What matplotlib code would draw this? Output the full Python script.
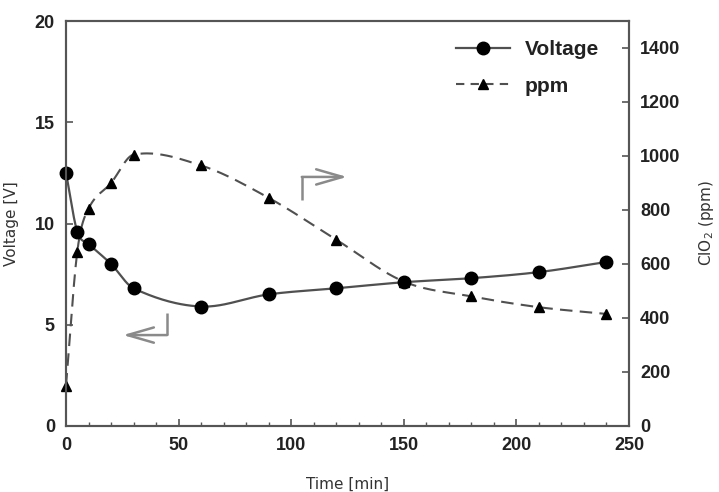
import numpy as np
import matplotlib
matplotlib.use("Agg")
import matplotlib.pyplot as plt
from matplotlib.lines import Line2D

time_min = [0, 5, 10, 20, 30, 60, 90, 120, 150, 180, 210, 240]
voltage = [12.5, 9.6, 9.0, 8.0, 6.8, 5.9, 6.5, 6.8, 7.1, 7.3, 7.6, 8.1]
ppm = [150, 645, 805, 900, 1005, 965, 845, 690, 535, 480, 440, 415]

x_ticks = [0, 50, 100, 150, 200, 250]
v_ticks = [0, 5, 10, 15, 20]
p_ticks = [0, 200, 400, 600, 800, 1000, 1200, 1400]


def smooth(x, y, n=40):
    x = np.asarray(x, float)
    y = np.asarray(y, float)
    m = np.empty_like(y)
    m[1:-1] = (y[2:] - y[:-2]) / (x[2:] - x[:-2])
    m[0] = (y[1] - y[0]) / (x[1] - x[0])
    m[-1] = (y[-1] - y[-2]) / (x[-1] - x[-2])
    xs, ys = [], []
    for i in range(len(x) - 1):
        h = x[i + 1] - x[i]
        s = np.linspace(0, 1, n, endpoint=(i == len(x) - 2))
        h00 = 2 * s**3 - 3 * s**2 + 1
        h10 = s**3 - 2 * s**2 + s
        h01 = -2 * s**3 + 3 * s**2
        h11 = s**3 - s**2
        xs.append(x[i] + s * h)
        ys.append(h00 * y[i] + h10 * h * m[i] + h01 * y[i + 1] + h11 * h * m[i + 1])
    return np.concatenate(xs), np.concatenate(ys)


W, H = 719, 492
fig = plt.figure(figsize=(W / 100, H / 100), dpi=100)
ax = fig.add_axes([66 / W, 1 - 426 / H, (629 - 66) / W, (426 - 21) / H])
ax2 = ax.twinx()

spine_c = "#555555"
line_c = "#505050"
tick_font = dict(family="Liberation Sans", weight="bold", size=13)

# ppm on right axis
px, py = smooth(time_min, ppm)
ax2.plot(px, py, color=line_c, lw=1.5, dashes=(6, 3.5))
ax2.plot(time_min, ppm, ls="none", marker="^", color="black", ms=7.5, clip_on=False)

# voltage on left axis
vx, vy = smooth(time_min, voltage)
ax.plot(vx, vy, color=line_c, lw=1.6)
ax.plot(time_min, voltage, ls="none", marker="o", color="black", ms=9, clip_on=False)

ax.set_zorder(ax2.get_zorder() + 1)
ax.patch.set_visible(False)

ax.set_xlim(0, 250)
ax.set_ylim(0, 20)
ax2.set_ylim(0, 1500)
ax.set_xticks(x_ticks)
ax.set_xticks(np.arange(0, 251, 10), minor=True)
ax.set_yticks(v_ticks)
ax2.set_yticks(p_ticks)

for a in (ax, ax2):
    for sp in a.spines.values():
        sp.set_color(spine_c)
        sp.set_linewidth(1.5)
ax.tick_params(axis="both", which="major", direction="in", length=5, width=1.2, color=spine_c, pad=8)
ax.tick_params(axis="x", which="minor", direction="in", length=3, width=1.0, color=spine_c)
ax2.tick_params(axis="y", which="major", direction="in", length=5, width=1.2, color=spine_c, pad=8)
for lab in ax.get_xticklabels() + ax.get_yticklabels() + ax2.get_yticklabels():
    lab.set_fontproperties(tick_font)
    lab.set_color("#222222")

lab_font = dict(family="DejaVu Sans", size=11, color="#333333")
ax.set_xlabel("Time [min]", labelpad=16, **lab_font)
ax.set_ylabel("Voltage [V]", labelpad=11, **lab_font)
ax2.set_ylabel("ClO$_2$ (ppm)", labelpad=12, **lab_font)

# legend
h1 = Line2D([], [], color=line_c, lw=1.6, marker="o", mfc="black", mec="black", ms=9)
h2 = Line2D([], [], color=line_c, lw=1.5, dashes=(4, 3), marker="^", mfc="black", mec="black", ms=7.5)
leg = ax.legend([h1, h2], ["Voltage", "ppm"], loc="upper left",
                bbox_to_anchor=(456 / W, 1 - 40 / H), bbox_transform=fig.transFigure,
                frameon=False, borderpad=0, borderaxespad=0, handlelength=2.6,
                handletextpad=0.7, labelspacing=0.85,
                prop=dict(family="Liberation Sans", weight="bold", size=15))
for t in leg.get_texts():
    t.set_color("#222222")

# direction arrows
arr_c = "#8a8a8a"
ax.plot([44.8, 44.8], [5.58, 4.49], color=arr_c, lw=1.8, solid_capstyle="butt")
ax.annotate("", xy=(25.3, 4.49), xytext=(44.9, 4.49),
            arrowprops=dict(arrowstyle="->,head_length=1.9,head_width=0.55",
                            color=arr_c, lw=1.8, shrinkA=0, shrinkB=0))
ax.plot([104.8, 104.8], [11.16, 12.30], color=arr_c, lw=1.8, solid_capstyle="butt")
ax.annotate("", xy=(124.8, 12.30), xytext=(104.7, 12.30),
            arrowprops=dict(arrowstyle="->,head_length=1.9,head_width=0.55",
                            color=arr_c, lw=1.8, shrinkA=0, shrinkB=0))

fig.savefig("out.png", dpi=100)
